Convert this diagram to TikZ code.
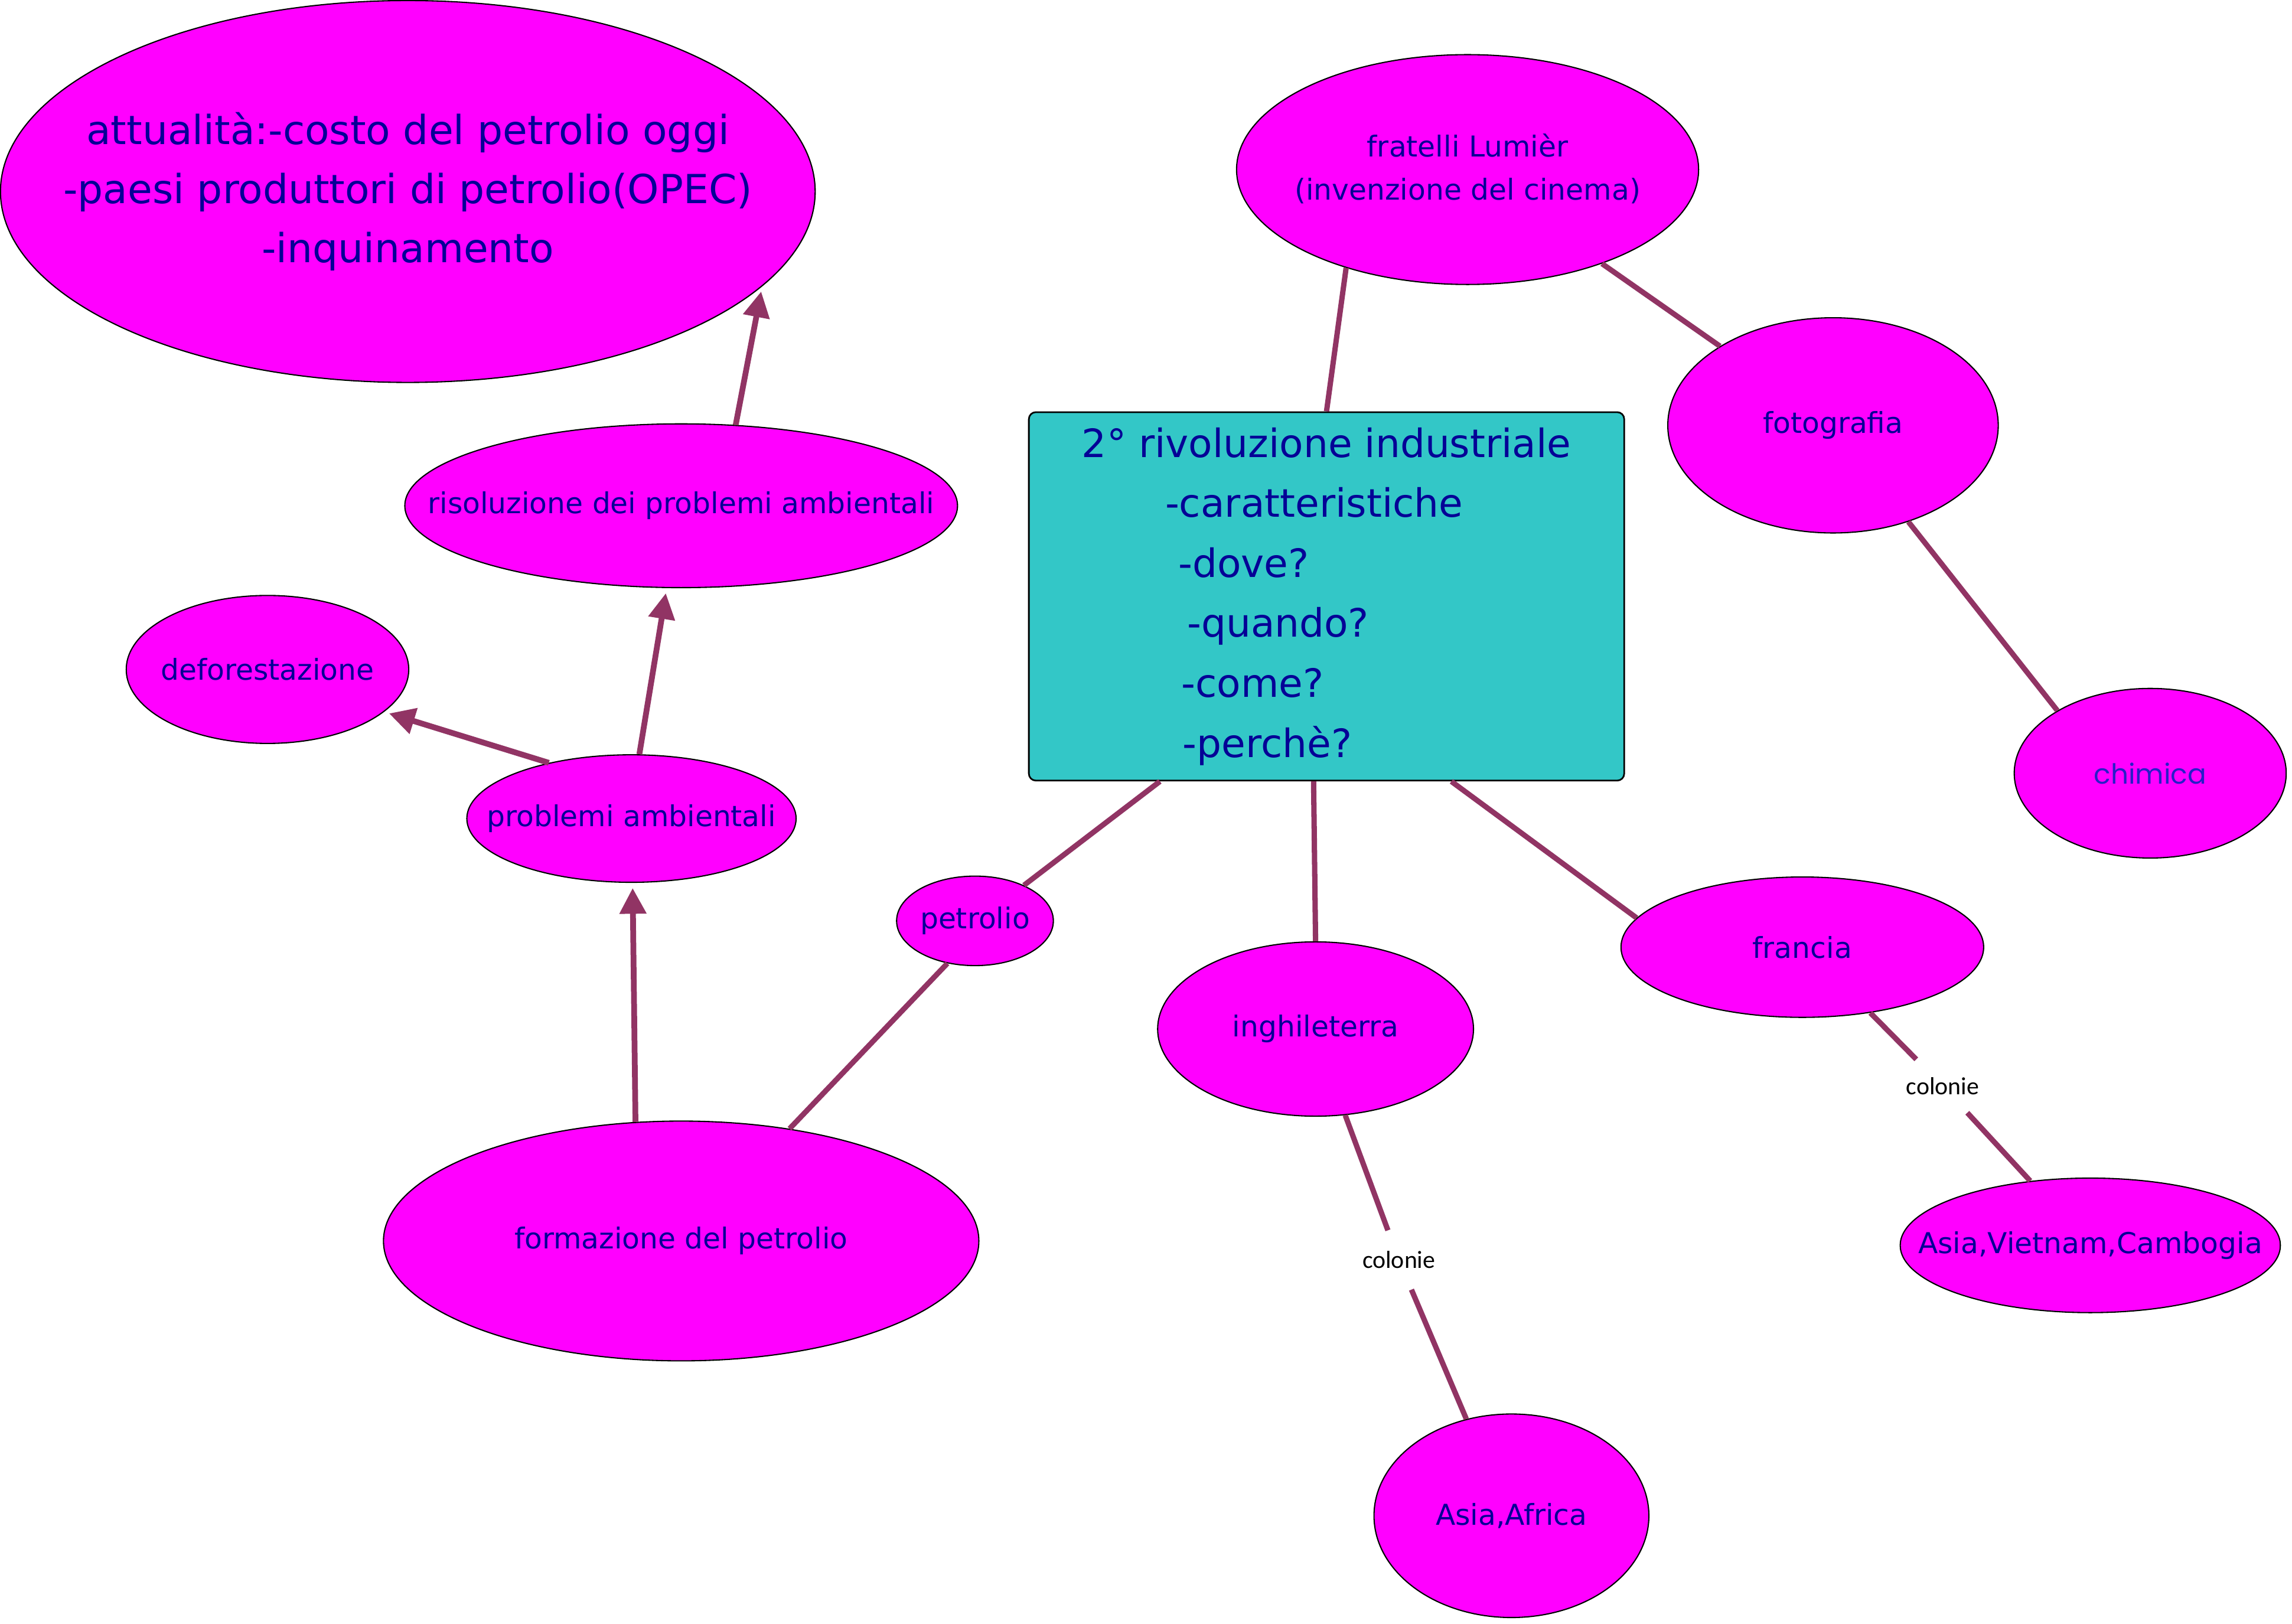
\documentclass[tikz,border=0pt]{standalone}
\usepackage{fontspec}
\setmainfont{DejaVu Sans}
\newfontfamily\labelfont{Carlito}
\newfontfamily\chemfont{Poppins}
\usetikzlibrary{arrows.meta, shapes.geometric}

\definecolor{bubblefill}{RGB}{255,0,255}
\definecolor{boxfill}{RGB}{51,199,199}
\definecolor{linkcol}{RGB}{145,52,100}
\definecolor{textblue}{RGB}{5,0,150}
\definecolor{chemblue}{RGB}{40,30,200}

% keep the text from widening the ellipse
\newcommand{\ctext}[1]{\makebox[0pt]{#1}}

\begin{document}
\begin{tikzpicture}[
    x=0.025cm, y=-0.025cm,
    bubble/.style={ellipse, draw=black, line width=0.6pt, fill=bubblefill, inner sep=0pt, text=textblue, font=\fontsize{14}{21}\selectfont},
    mainbox/.style={rectangle, draw=black, line width=0.8pt, rounded corners=0.12cm, fill=boxfill, inner sep=0pt, text=textblue, align=left, font=\fontsize{19}{29.2}\selectfont},
    link/.style={draw=linkcol, line width=2.6pt},
    arrow/.style={link, line width=2.8pt, -{Triangle[length=0.44cm, width=0.44cm]}, shorten >=2.5pt},
    linklabel/.style={inner sep=0pt, minimum width=1.3cm, font=\labelfont\fontsize{12}{14}\selectfont},
]
    \fill[white] (0,0) rectangle (1568,1111);
    \useasboundingbox (0,0) rectangle (1568,1111);

    % Central box
    \node[mainbox, minimum width=10.18cm, minimum height=6.3cm] (rivoluzione) at (907.5,408) {2° rivoluzione industriale\\
        \hspace*{1.425cm}-caratteristiche\\
        \hspace*{1.65cm}-dove?\\
        \hspace*{1.8cm}-quando?\\
        \hspace*{1.7cm}-come?\\
        \hspace*{1.725cm}-perchè?};

    % Left branch: petrolio
    \node[bubble, minimum width=13.93cm, minimum height=6.53cm, font=\fontsize{19.5}{28.7}\selectfont] (attualita) at (279,131) {\ctext{\begin{tabular}{@{}c@{}}attualità:-costo del petrolio oggi\\-paesi produttori di petrolio(OPEC)\\-inquinamento\end{tabular}}};
    \node[bubble, minimum width=9.45cm, minimum height=2.8cm] (risoluzione) at (466,346) {\ctext{risoluzione dei problemi ambientali}};
    \node[bubble, minimum width=4.83cm, minimum height=2.53cm] (deforestazione) at (183,458) {\ctext{deforestazione}};
    \node[bubble, minimum width=5.63cm, minimum height=2.18cm] (problemi) at (432,560) {\ctext{problemi ambientali}};
    \node[bubble, minimum width=2.68cm, minimum height=1.53cm] (petrolio) at (667,630) {\ctext{petrolio}};
    \node[bubble, minimum width=10.18cm, minimum height=4.1cm] (formazione) at (466,849) {\ctext{formazione del petrolio}};

    % Right branch
    \node[bubble, minimum width=7.9cm, minimum height=3.93cm] (lumiere) at (1004,116) {\ctext{\begin{tabular}{@{}c@{}}fratelli Lumièr\\(invenzione del cinema)\end{tabular}}};
    \node[bubble, minimum width=5.65cm, minimum height=3.68cm] (fotografia) at (1254,291) {\ctext{fotografia}};
    \node[bubble, minimum width=4.65cm, minimum height=2.9cm, text=chemblue, font=\chemfont\fontsize{13.5}{16}\selectfont] (chimica) at (1471,529) {\ctext{chimica}};

    % Countries
    \node[bubble, minimum width=5.4cm, minimum height=2.98cm] (inghilterra) at (900,704) {\ctext{inghileterra}};
    \node[bubble, minimum width=6.2cm, minimum height=2.4cm] (francia) at (1233,648) {\ctext{francia}};
    \node[bubble, minimum width=4.7cm, minimum height=3.48cm] (asiaafrica) at (1034,1037) {\ctext{Asia,Africa}};
    \node[bubble, minimum width=6.5cm, minimum height=2.3cm] (asiavietnam) at (1430,852) {\ctext{Asia,Vietnam,Cambogia}};
    \node[linklabel, minimum height=1cm] (colonieA) at (957,862) {colonie};
    \node[linklabel, minimum height=0.9cm] (colonieB) at (1329,743) {colonie};

    % Plain links
    \draw[link] (rivoluzione.north) -- (lumiere.219);
    \draw[link] (lumiere.-35) -- (fotografia.145);
    \draw[link] (fotografia.308) -- (chimica.146);
    \draw[link] (rivoluzione.228.75) -- (petrolio.36);
    \draw[link] (rivoluzione.266) -- (inghilterra.north);
    \draw[link] (rivoluzione.304) -- (francia.170);
    \draw[link] (petrolio.237) -- (formazione.46.5);
    \draw[link] (inghilterra.289) -- (colonieA);
    \draw[link] (colonieA) -- (asiaafrica.115);
    \draw[link] (francia.316) -- (colonieB);
    \draw[link] (colonieB) -- (asiavietnam.133);

    % Arrows
    \draw[arrow] (formazione.111) -- (problemi.271);
    \draw[arrow] (problemi.146) -- (deforestazione.340);
    \draw[arrow] (problemi.83) -- (risoluzione.260);
    \draw[arrow] (risoluzione.56) -- (attualita.345);
\end{tikzpicture}
\end{document}
